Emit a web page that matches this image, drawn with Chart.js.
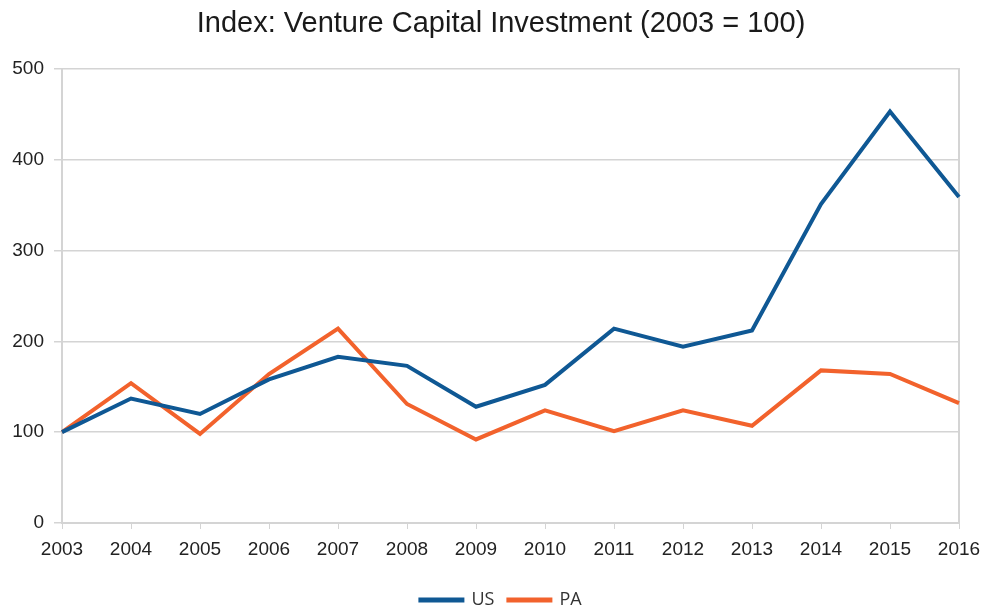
<!DOCTYPE html>
<html>
<head>
<meta charset="utf-8">
<script src="https://cdn.jsdelivr.net/npm/chart.js"></script>
<style>
  html, body { margin: 0; padding: 0; background: #fff; }
  #wrap { width: 983px; height: 611px; }
</style>
</head>
<body>
<div id="wrap"><canvas id="vcChart" width="983" height="611"></canvas></div>
<script>
// years on the x axis
let years = ["2003","2004","2005","2006","2007","2008","2009","2010","2011","2012","2013","2014","2015","2016"];
// index values, 2003 = 100
let usValues = [100, 137, 120, 158, 183, 173, 128, 152, 214, 194, 212, 351, 453, 359];
let paValues = [100, 154, 98, 164, 214, 131, 92, 124, 101, 124, 107, 168, 164, 132];
let yTicks = [0, 100, 200, 300, 400, 500];

let blue = "#0f5894";
let orange = "#f2622c";
let gridGrey = "#d4d4d4";

new Chart(document.getElementById("vcChart"), {
  type: "line",
  data: {
    labels: years,
    datasets: [
      {
        label: "US",
        data: usValues,
        borderColor: blue,
        backgroundColor: blue,
        borderWidth: 4,
        pointRadius: 0,
        tension: 0
      },
      {
        label: "PA",
        data: paValues,
        borderColor: orange,
        backgroundColor: orange,
        borderWidth: 4,
        pointRadius: 0,
        tension: 0
      }
    ]
  },
  options: {
    responsive: false,
    animation: false,
    // negative right padding keeps title centred like the original
    layout: { padding: { left: 8, right: -11, top: 0, bottom: -8 } },
    plugins: {
      title: {
        display: true,
        text: "Index: Venture Capital Investment (2003 = 100)",
        color: "#1a1a1a",
        font: { family: "Liberation Sans", size: 29, weight: "normal" },
        padding: { top: 7, bottom: 27 }
      },
      legend: {
        position: "bottom",
        labels: {
          color: "#333",
          font: { family: "Open Sans", size: 18 },
          boxWidth: 42,
          boxHeight: 1,
          padding: 14
        }
      },
      tooltip: { enabled: false }
    },
    scales: {
      x: {
        afterFit: s => { s.height = 54; s.paddingLeft = 0; s.paddingRight = 0; },
        grid: { drawOnChartArea: false, color: gridGrey, tickLength: 6 },
        border: { color: gridGrey, width: 2 },
        ticks: { color: "#222", font: { family: "Liberation Sans", size: 19 }, maxRotation: 0, padding: 9 }
      },
      y: {
        min: 0,
        max: 500,
        afterFit: s => { s.width = 54; },
        afterBuildTicks: axis => { axis.ticks = yTicks.map(v => ({ value: v })); },
        grid: { color: gridGrey, lineWidth: 1.5, tickLength: 8 },
        border: { color: gridGrey, width: 2 },
        ticks: { color: "#222", font: { family: "Liberation Sans", size: 19 }, padding: 10 }
      },
      yRight: {
        position: "right",
        min: 0,
        max: 500,
        afterFit: s => { s.width = 35; },
        grid: { drawOnChartArea: false, drawTicks: false },
        border: { color: gridGrey, width: 2 },
        ticks: { display: false }
      }
    }
  }
});
</script>
</body>
</html>
